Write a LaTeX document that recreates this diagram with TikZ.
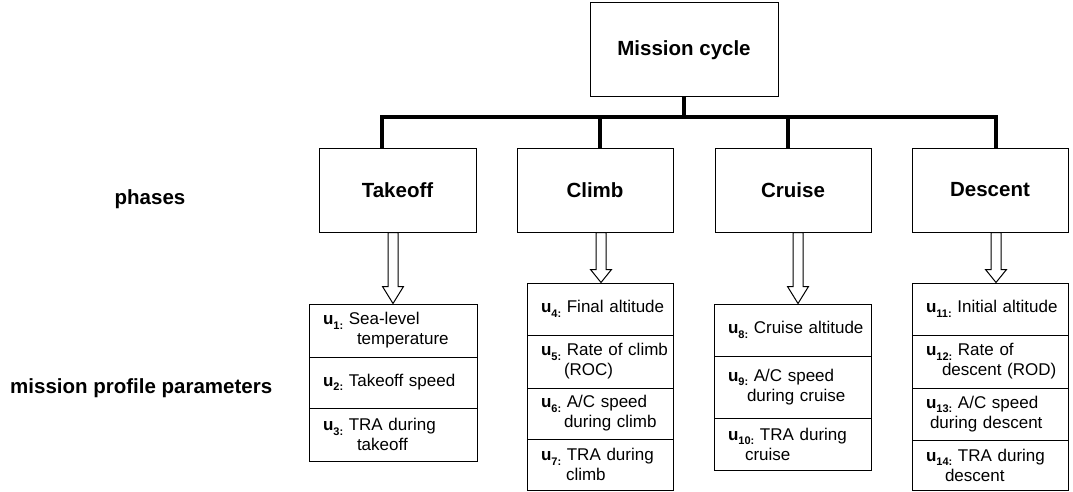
\documentclass[tikz,border=0pt]{standalone}
\usepackage{fontspec}
\setmainfont{Liberation Sans}
\usetikzlibrary{calc}

% bold "u" with a bold subscript index followed by a colon
\newcommand{\uvar}[1]{\textbf{u}\raisebox{-4.5pt}{\fontsize{11}{11}\selectfont\bfseries #1:}\ }

\tikzset{
  titlefont/.style={font=\bfseries\fontsize{20.5}{24}\selectfont},
  mainbox/.style={draw, line width=1pt, inner sep=0pt, titlefont},
  phasebox/.style={mainbox, minimum width=156pt, minimum height=84pt},
  cell/.style={draw, line width=1pt, inner ysep=0pt, inner xsep=14pt,
    align=left, font=\fontsize{17}{20}\selectfont},
  bus/.style={line width=3.6pt, line cap=rect},
  hollow/.style={draw, line width=1pt, fill=white, line join=miter},
  sidelabel/.style={titlefont, inner sep=0pt}
}

% hollow block arrow from the bottom of one node to the top of another
% #1 = x position, #2 = upper node, #3 = lower node, #4 = head length
\newcommand{\hollowdown}[4]{%
  \draw[hollow] let \p1=(#1,0 |- #2.south), \p2=(#1,0 |- #3.north) in
    (\x1-5pt,\y1) -- (\x1-5pt,\y2+#4) -- (\x1-10.5pt,\y2+#4) -- (\x1,\y2)
    -- (\x1+10.5pt,\y2+#4) -- (\x1+5pt,\y2+#4) -- (\x1+5pt,\y1) -- cycle;}

\begin{document}
\begin{tikzpicture}[x=1pt,y=-1pt]
\useasboundingbox (0,0) rectangle (1073,492);

% ---- top of the tree
\node[mainbox, minimum width=188pt, minimum height=94pt] (mission) at (684,50) {Mission cycle};

% ---- phases
\node[phasebox, minimum width=157pt] (takeoff) at (397.5,190) {Takeoff};
\node[phasebox] (climb)   at (595,190) {Climb};
\node[phasebox] (cruise)  at (793,190) {Cruise};
\node[phasebox] (descent) at (990,190) {Descent};

% ---- bus connecting the mission cycle to the phases
\coordinate (bus) at (684,117);
\draw[bus] (mission.south) -- (bus);
\draw[bus] (382,0 |- takeoff.north) |- (bus);
\draw[bus] (996,0 |- descent.north) |- (bus);
\draw[bus] (600,0 |- climb.north) -- (600,0 |- bus);
\draw[bus] (788,0 |- cruise.north) -- (788,0 |- bus);

% ---- side labels
\node[sidelabel] (lphases) at (150,199) {phases};
\node[sidelabel, anchor=west] (lparams) at (10,388) {mission profile parameters};

% ---- takeoff parameters
\node[cell, minimum width=168pt, text width=140pt, minimum height=53pt] (t1) at (393,330.5)
  {\uvar{1}Sea-level\\\mbox{\hspace*{34pt}temperature}};
\node[cell, minimum width=168pt, text width=140pt, minimum height=51pt] (t2) at (393,382.5)
  {\mbox{\uvar{2}Takeoff speed}};
\node[cell, minimum width=168pt, text width=140pt, minimum height=53pt] (t3) at (393,434.5)
  {\uvar{3}TRA during\\\hspace*{34pt}takeoff};

% ---- climb parameters
\node[cell, minimum width=146pt, text width=118pt, minimum height=52pt] (c1) at (600,309)
  {\mbox{\uvar{4}Final altitude}};
\node[cell, minimum width=146pt, text width=118pt, minimum height=53pt] (c2) at (600,361.5)
  {\mbox{\uvar{5}Rate of climb}\\\hspace*{23pt}(ROC)};
\node[cell, minimum width=146pt, text width=118pt, minimum height=51pt] (c3) at (600,413.5)
  {\uvar{6}A/C speed\\\mbox{\hspace*{23pt}during climb}};
\node[cell, minimum width=146pt, text width=118pt, minimum height=51pt] (c4) at (600,464.5)
  {\uvar{7}TRA during\\\hspace*{25pt}climb};

% ---- cruise parameters
\node[cell, minimum width=157pt, text width=129pt, minimum height=52pt] (r1) at (792.5,330)
  {\mbox{\uvar{8}Cruise altitude}};
\node[cell, minimum width=157pt, text width=129pt, minimum height=62pt] (r2) at (792.5,387)
  {\uvar{9}A/C speed\\\mbox{\hspace*{19pt}during cruise}};
\node[cell, minimum width=157pt, text width=129pt, minimum height=52pt] (r3) at (792.5,444)
  {\uvar{10}TRA during\\\hspace*{17pt}cruise};

% ---- descent parameters
\node[cell, minimum width=156pt, text width=128pt, minimum height=52pt] (d1) at (990,309)
  {\mbox{\uvar{11}Initial altitude}};
\node[cell, minimum width=156pt, text width=128pt, minimum height=53pt] (d2) at (990,361.5)
  {\uvar{12}Rate of\\\mbox{\hspace*{16pt}descent (ROD)}};
\node[cell, minimum width=156pt, text width=128pt, minimum height=52pt] (d3) at (990,414)
  {\uvar{13}A/C speed\\\mbox{\hspace*{4pt}during descent}};
\node[cell, minimum width=156pt, text width=128pt, minimum height=50pt] (d4) at (990,465)
  {\uvar{14}TRA during\\\hspace*{19pt}descent};

% ---- hollow arrows from each phase to its parameters
\hollowdown{393}{takeoff}{t1}{17pt}
\hollowdown{601}{climb}{c1}{13pt}
\hollowdown{798}{cruise}{r1}{17pt}
\hollowdown{996}{descent}{d1}{13pt}
\end{tikzpicture}
\end{document}
